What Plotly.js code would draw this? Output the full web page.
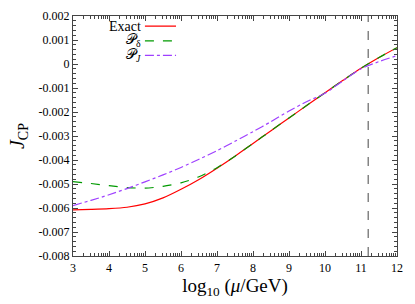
<!DOCTYPE html>
<html>
<head>
<meta charset="utf-8">
<script src="https://cdn.plot.ly/plotly-3.0.1.min.js"></script>
<style>html,body{margin:0;padding:0;background:#fff;}#chart{width:415px;height:304px;}</style>
</head>
<body>
<div id="chart"></div>
<script>
// ---- data ----
const logMu = [3, 3.5, 4, 4.5, 5, 5.5, 6, 6.5, 7, 7.5, 8, 8.5, 9, 9.5, 10, 10.5, 11, 11.5, 12];
const exactJ = [-0.00608, -0.00606, -0.00603, -0.00597, -0.00583, -0.00558, -0.00522, -0.00481, -0.00434, -0.00384, -0.00331, -0.00278, -0.00225, -0.00172, -0.00120, -0.00068, -0.00018, 0.00027, 0.00068];
const pDeltaJ = [-0.00490, -0.00498, -0.00507, -0.00515, -0.00517, -0.00510, -0.00495, -0.00470, -0.00432, -0.00384, -0.00331, -0.00278, -0.00225, -0.00172, -0.00120, -0.00068, -0.00018, 0.00027, 0.00068];
const pJJ = [-0.00590, -0.00568, -0.00545, -0.00519, -0.00491, -0.00462, -0.00431, -0.00397, -0.00361, -0.00322, -0.00282, -0.00240, -0.00196, -0.00156, -0.00122, -0.00070, -0.00020, 0.00010, 0.00035];
const seriesNames = ["Exact", "𝒫<sub>δ</sub>", "𝒫<sub><i>J</i></sub>"];
const markerLineX = 11.2;
const yTickVals = [0.002, 0.001, 0, -0.001, -0.002, -0.003, -0.004, -0.005, -0.006, -0.007, -0.008];
const yTickText = ["0.002", "0.001", "0", "-0.001", "-0.002", "-0.003", "-0.004", "-0.005", "-0.006", "-0.007", "-0.008"];

const colors = ["#ff0000", "#009a00", "#9f40ff"];
const dashes = ["solid", "dash", "dashdot"];
const ys = [exactJ, pDeltaJ, pJJ];

const traces = ys.map((y, i) => ({
  x: logMu, y: y, type: "scatter", mode: "lines",
  line: {color: colors[i], width: 1.2, dash: dashes[i], shape: "spline", smoothing: 0.8},
  showlegend: false, hoverinfo: "skip"
}));

// minor tick positions (gnuplot-like log minor ticks between integer majors)
const xMinor = [];
for (let n = 3; n < 12; n++) for (let k = 2; k <= 9; k++) xMinor.push(n + Math.log10(k));

const font = "Liberation Serif";
const tickFont = {family: font, size: 12, color: "#000"};
const axisCommon = {
  showgrid: false, zeroline: false, showline: true, mirror: "allticks",
  linecolor: "#444", linewidth: 1.2, ticks: "inside", ticklen: 5, tickcolor: "#444"
};

// custom legend (text right-aligned, sample line on the right)
const legendY = [0.958, 0.896, 0.836];
const annotations = seriesNames.map((nm, i) => ({
  xref: "paper", yref: "paper", x: 0.212, y: legendY[i], xanchor: "right", yanchor: "middle",
  text: nm, showarrow: false, font: {family: font, size: 14, color: "#000"}, borderpad: 0
}));
const shapes = seriesNames.map((nm, i) => ({
  type: "line", xref: "paper", yref: "paper", x0: 0.222, x1: 0.318, y0: legendY[i], y1: legendY[i],
  line: {color: colors[i], width: 1.2, dash: dashes[i]}
}));
shapes.push({type: "line", xref: "x", yref: "paper", x0: markerLineX, x1: markerLineX, y0: 0, y1: 1,
  line: {color: "#666", width: 1.2, dash: "dash"}});

const layout = {
  width: 415, height: 304,
  margin: {l: 73, r: 18, t: 16, b: 48},
  paper_bgcolor: "#fff", plot_bgcolor: "#fff",
  font: {family: font, color: "#000"},
  xaxis: Object.assign({}, axisCommon, {
    range: [3, 12], tickmode: "linear", tick0: 3, dtick: 1, tickfont: tickFont,
    minor: {tickmode: "array", tickvals: xMinor, ticklen: 3, tickcolor: "#444", ticks: "inside"},
    title: {text: "log<sub>10</sub> (<i>μ</i>/GeV)", font: {family: font, size: 19, color: "#000"}, standoff: 4}
  }),
  yaxis: Object.assign({}, axisCommon, {
    range: [-0.008, 0.002], tickmode: "array", tickvals: yTickVals, ticktext: yTickText, tickfont: tickFont,
    minor: {tickmode: "linear", dtick: 0.0002, ticklen: 3, tickcolor: "#444", ticks: "inside"},
    title: {text: "<i>J</i><sub>CP</sub>", font: {family: font, size: 20, color: "#000"}, standoff: 8}
  }),
  annotations: annotations,
  shapes: shapes
};

Plotly.newPlot("chart", traces, layout, {staticPlot: true, displayModeBar: false});
</script>
</body>
</html>
